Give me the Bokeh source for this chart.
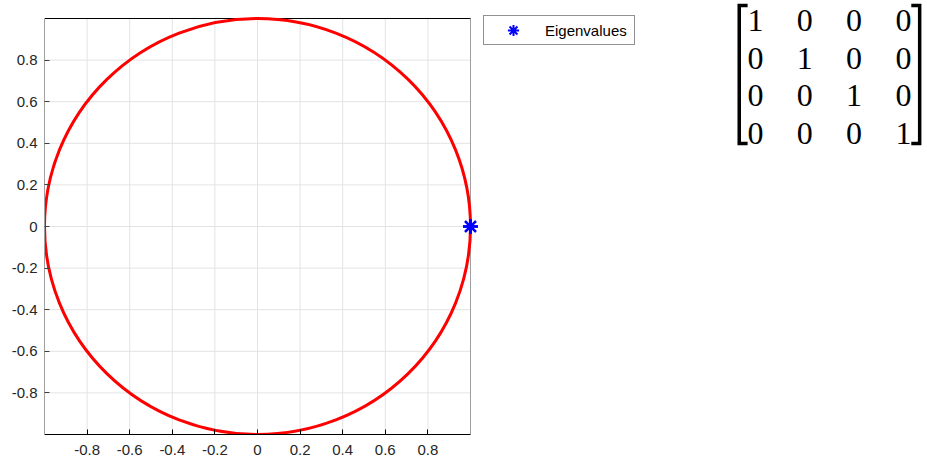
from bokeh.plotting import figure
from bokeh.models import Range1d, FixedTicker, Legend, LegendItem
from bokeh.layouts import row
from bokeh.embed import file_html
from bokeh.resources import INLINE
from bokeh.core.properties import value

# ---- data ----
matrix = [[1, 0, 0, 0],
          [0, 1, 0, 0],
          [0, 0, 1, 0],
          [0, 0, 0, 1]]
eig_re = [1.0, 1.0, 1.0, 1.0]
eig_im = [0.0, 0.0, 0.0, 0.0]
circle_center = (0.0, 0.0)
circle_radius = 1.0
x_ticks = [-0.8, -0.6, -0.4, -0.2, 0.0, 0.2, 0.4, 0.6, 0.8]
x_tick_labels = ["-0.8", "-0.6", "-0.4", "-0.2", "0", "0.2", "0.4", "0.6", "0.8"]
y_ticks = [-0.8, -0.6, -0.4, -0.2, 0.0, 0.2, 0.4, 0.6, 0.8]
y_tick_labels = ["-0.8", "-0.6", "-0.4", "-0.2", "0", "0.2", "0.4", "0.6", "0.8"]
x_lim = (-1.0, 1.0)
y_lim = (-1.0, 1.0)
legend_label = "Eigenvalues"

FONT = "Liberation Sans"
TXT = "#262626"
GRID = "#e3e3e3"
BOX_GREY = "#a0a0a0"

# pixel geometry of the axes box
W, H = 720, 463
box_left, box_right, box_top, box_bottom = 44, 470, 18, 434
frame_right = 640          # frame extends right so the legend and edge markers are not clipped
px_x = (box_right - box_left) / (x_lim[1] - x_lim[0])
px_y = (box_bottom - box_top) / (y_lim[1] - y_lim[0])

p = figure(width=W, height=H,
           x_range=Range1d(x_lim[0], x_lim[1] + (frame_right - box_right) / px_x),
           y_range=Range1d(y_lim[0], y_lim[1] + box_top / px_y),
           output_backend="svg", toolbar_location=None,
           min_border_left=box_left, min_border_right=W - frame_right,
           min_border_top=0, min_border_bottom=H - box_bottom)
p.outline_line_color = None
p.background_fill_color = "white"
p.border_fill_color = "white"
p.grid.visible = False

for ax, ticks, labels in ((p.xaxis[0], x_ticks, x_tick_labels), (p.yaxis[0], y_ticks, y_tick_labels)):
    ax.ticker = FixedTicker(ticks=ticks)
    ax.major_label_overrides = {t: l for t, l in zip(ticks, labels)}
    ax.major_label_text_font = FONT
    ax.major_label_text_font_size = "15px"
    ax.major_label_text_color = TXT
    ax.major_tick_in = 5
    ax.major_tick_out = 0
    ax.minor_tick_line_color = None

p.xaxis.bounds = x_lim
p.xaxis.axis_line_color = "black"
p.xaxis.major_tick_line_color = "black"
p.xaxis.major_label_standoff = 10
p.yaxis.bounds = y_lim
p.yaxis.axis_line_color = BOX_GREY
p.yaxis.major_tick_line_color = "#404040"
p.yaxis.major_label_standoff = 7

# grid lines, top border and right border limited to the [-1,1] box
p.multi_line(xs=[[x_lim[0], x_lim[1]] for _ in y_ticks] + [[t, t] for t in x_ticks],
             ys=[[t, t] for t in y_ticks] + [[y_lim[0], y_lim[1]] for _ in x_ticks],
             line_color=GRID, line_width=1)
p.segment(x0=[x_lim[1]], y0=[y_lim[0]], x1=[x_lim[1]], y1=[y_lim[1]], line_color=BOX_GREY, line_width=1)
p.segment(x0=[x_lim[0]], y0=[y_lim[1]], x1=[x_lim[1]], y1=[y_lim[1]], line_color="black", line_width=1)

p.ellipse(x=[circle_center[0]], y=[circle_center[1]], width=[2 * circle_radius], height=[2 * circle_radius],
          fill_color=None, line_color="#ff0000", line_width=3)
stars = p.scatter(x=eig_re, y=eig_im, marker="asterisk", size=15, line_color="#0000ff", line_width=2)

leg_left, leg_bottom = 483, 45
legend = Legend(items=[LegendItem(label=legend_label, renderers=[stars])],
                location=(leg_left - box_left, box_bottom - leg_bottom), margin=0, padding=0, spacing=0,
                glyph_width=58, glyph_height=28, label_standoff=3, label_width=89, label_height=28,
                label_text_font=FONT, label_text_font_size="15px", label_text_color="black",
                border_line_color="#262626", border_line_width=1, background_fill_color="white",
                background_fill_alpha=1.0)
p.add_layout(legend, "center")

# ---- matrix panel ----
n = len(matrix)
col_px = 49.3
row_px = 37.7
q_w = 927 - W
col0_off = 35.0   # px from panel left to column 0
row0_off = 20.0   # px from panel top to row 0
q = figure(width=q_w, height=H, output_backend="svg", toolbar_location=None,
           x_range=Range1d(-col0_off / col_px, (q_w - col0_off) / col_px),
           y_range=Range1d((box_bottom - row0_off) / row_px, -row0_off / row_px),
           min_border_left=0, min_border_right=0, min_border_top=0, min_border_bottom=H - box_bottom)
q.axis.visible = False
q.grid.visible = False
q.outline_line_color = None
q.border_fill_color = "white"
q.background_fill_color = "white"

tx, ty, tt = [], [], []
for i, r in enumerate(matrix):
    for j, v in enumerate(r):
        tx.append(j)
        ty.append(i)
        tt.append(str(v))
q.text(x=tx, y=ty, text=tt, text_font=value("Liberation Serif"), text_font_size="32px",
       text_align="center", text_baseline="middle", text_color="black")

bx = 0.33
by_top = -0.4
by_bot = (n - 1) + 0.26
serif = 0.17
q.multi_line(xs=[[-bx + serif, -bx, -bx, -bx + serif],
                 [(n - 1) + bx - serif, (n - 1) + bx, (n - 1) + bx, (n - 1) + bx - serif]],
             ys=[[by_top, by_top, by_bot, by_bot], [by_top, by_top, by_bot, by_bot]],
             line_color="black", line_width=3.5, line_join="miter")

layout = row(p, q)
open("out.html", "w").write(file_html(layout, INLINE))
